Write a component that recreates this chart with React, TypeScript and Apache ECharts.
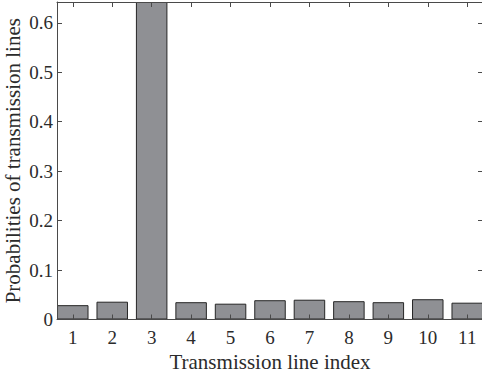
import React, { useEffect, useRef } from "react";
import * as echarts from "echarts";

const lineIndex = [1, 2, 3, 4, 5, 6, 7, 8, 9, 10, 11];
const probabilities = [0.029, 0.036, 0.642, 0.035, 0.032, 0.039, 0.04, 0.037, 0.035, 0.041, 0.034];
const yTicks = [0, 0.1, 0.2, 0.3, 0.4, 0.5, 0.6];
const xTitle = "Transmission line index";
const yTitle = "Probabilities of transmission lines";

const FONT = "'Liberation Serif', 'Times New Roman', serif";
const AXIS = "#4a4a4a";
const TEXT = "#2b2b2b";

export default function App() {
  const ref = useRef<HTMLDivElement>(null);
  useEffect(() => {
    if (!ref.current) return;
    const chart = echarts.init(ref.current, undefined, { renderer: "svg" });
    const xMin = 0.6;
    const xMax = 11.4;
    const yMax = 0.642;
    const line = { show: true, onZero: false, lineStyle: { color: AXIS, width: 1 } };
    chart.setOption({
      animation: false,
      grid: {
        left: 57,
        right: -1,
        top: 2,
        bottom: 55.5,
        containLabel: false,
        outerBoundsMode: "none",
      },
      xAxis: [
        {
          type: "value",
          min: xMin,
          max: xMax,
          z: 5,
          name: xTitle,
          nameLocation: "middle",
          nameGap: 32,
          nameMoveOverlap: false,
          nameTextStyle: { fontFamily: FONT, fontSize: 21, color: TEXT },
          axisLine: line,
          axisTick: { show: true, inside: true, length: 5, customValues: lineIndex, lineStyle: { color: AXIS } },
          axisLabel: { customValues: lineIndex, margin: 8, fontFamily: FONT, fontSize: 19, color: TEXT },
          splitLine: { show: false },
        },
        {
          type: "value",
          position: "top",
          min: xMin,
          max: xMax,
          z: 5,
          axisLine: line,
          axisTick: { show: true, inside: true, length: 5, customValues: lineIndex, lineStyle: { color: AXIS } },
          axisLabel: { show: false },
          splitLine: { show: false },
        },
      ],
      yAxis: [
        {
          type: "value",
          min: 0,
          max: yMax,
          z: 5,
          name: yTitle,
          nameLocation: "middle",
          nameGap: 34,
          nameMoveOverlap: false,
          nameTextStyle: { fontFamily: FONT, fontSize: 21, color: TEXT },
          axisLine: line,
          axisTick: { show: true, inside: true, length: 5, customValues: yTicks, lineStyle: { color: AXIS } },
          axisLabel: {
            customValues: yTicks,
            margin: 4,
            fontFamily: FONT,
            fontSize: 19,
            color: TEXT,
            formatter: (v: number) => (v === 0 ? "0" : String(Math.round(v * 10) / 10)),
          },
          splitLine: { show: false },
        },
        {
          type: "value",
          position: "right",
          min: 0,
          max: yMax,
          z: 5,
          axisLine: line,
          axisTick: { show: true, inside: true, length: 5, customValues: yTicks, lineStyle: { color: AXIS } },
          axisLabel: { show: false },
          splitLine: { show: false },
        },
      ],
      series: [
        {
          type: "bar",
          xAxisIndex: 0,
          yAxisIndex: 0,
          barWidth: 31.5,
          data: lineIndex.map((x, i) => [x, probabilities[i]]),
          itemStyle: { color: "#8f9094", borderColor: "#262626", borderWidth: 1 },
        },
      ],
    });
    return () => chart.dispose();
  }, []);
  return (
    <div
      ref={ref}
      style={{ position: "fixed", left: 0, top: 0, width: 482, height: 375, background: "#fff" }}
    />
  );
}
